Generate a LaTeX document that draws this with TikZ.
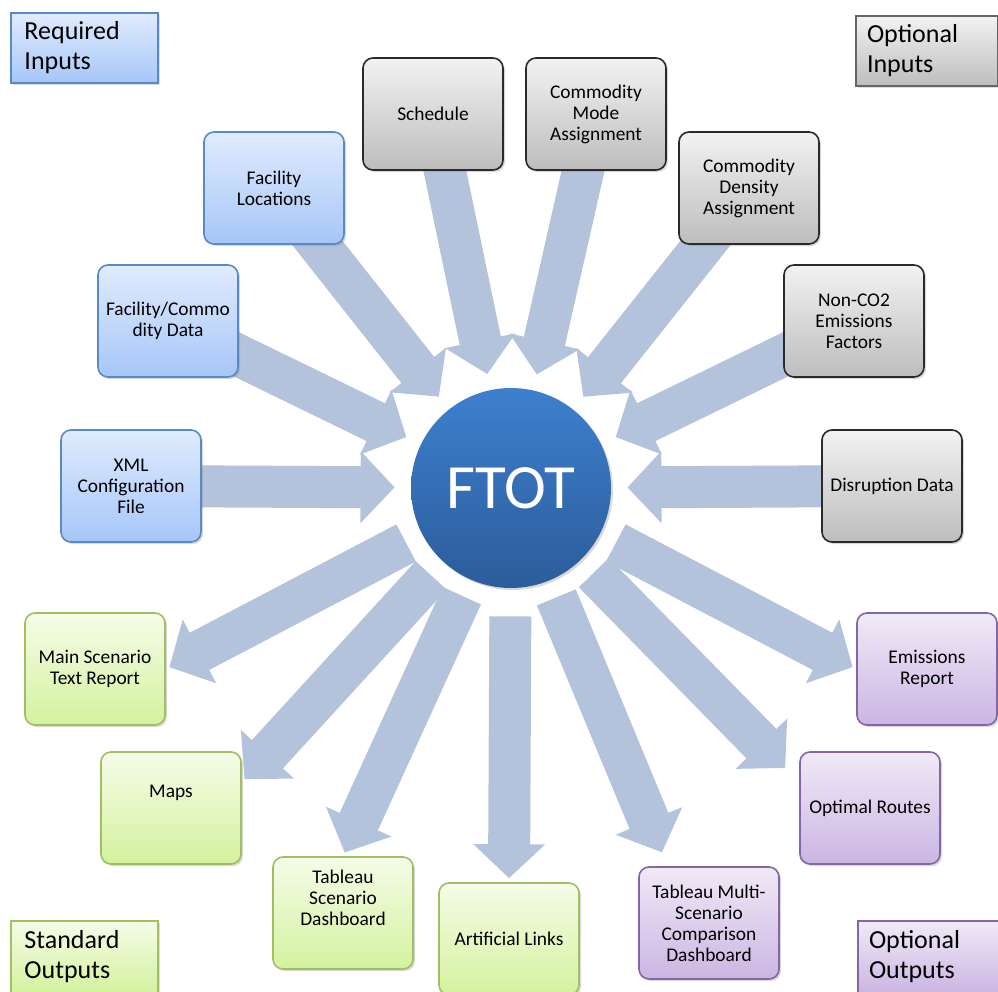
\documentclass[tikz,border=0pt]{standalone}
\usepackage{fontspec}
\setmainfont{Carlito}
\usepackage{xcolor}
\usetikzlibrary{arrows.meta}
\usetikzlibrary{shadows}

\definecolor{flowblue}{HTML}{B3C3DC}
\definecolor{hubtop}{HTML}{3D80CE}
\definecolor{hubbot}{HTML}{2C5C9B}
\definecolor{reqtop}{HTML}{E0EBFD}
\definecolor{reqbot}{HTML}{A6C6F8}
\definecolor{reqedge}{HTML}{5A8AC6}
\definecolor{opttop}{HTML}{F2F2F2}
\definecolor{optbot}{HTML}{BDBDBD}
\definecolor{optedge}{HTML}{2A2A2A}
\definecolor{stdtop}{HTML}{F5FCE8}
\definecolor{stdbot}{HTML}{D4F29E}
\definecolor{stdedge}{HTML}{9FBF62}
\definecolor{outtop}{HTML}{F0EAF7}
\definecolor{outbot}{HTML}{CBB5E2}
\definecolor{outedge}{HTML}{8466A6}

\pgfdeclarelayer{background}
\pgfsetlayers{background,main}

\tikzstyle{card} = [rectangle, rounded corners=5pt, minimum width=70pt,
minimum height=56pt, align=center, line width=0.8pt,
font=\fontsize{9.7}{10.5}\selectfont,
drop shadow={shadow xshift=1pt, shadow yshift=-1pt, opacity=0.3}]
\tikzstyle{reqcard} = [card, draw=reqedge, top color=reqtop, bottom color=reqbot]
\tikzstyle{optcard} = [card, draw=optedge, top color=opttop, bottom color=optbot]
\tikzstyle{stdcard} = [card, draw=stdedge, top color=stdtop, bottom color=stdbot]
\tikzstyle{outcard} = [card, draw=outedge, top color=outtop, bottom color=outbot]
\tikzstyle{legend} = [rectangle, line width=0.7pt, inner xsep=5.5pt,
text width=60pt, minimum height=35pt, align=left,
font=\fontsize{13}{15}\selectfont,
drop shadow={shadow xshift=1pt, shadow yshift=-1pt, opacity=0.25}]
\tikzstyle{hub} = [circle, minimum size=100pt, inner sep=0pt,
top color=hubtop, bottom color=hubbot, text=white,
font=\fontsize{31.5}{32}\selectfont,
drop shadow={shadow xshift=1pt, shadow yshift=-1pt, opacity=0.3}]
\tikzstyle{flow} = [draw=flowblue, line width=21pt,
-{Triangle[length=17pt, width=35pt]}, shorten >=8pt]
\tikzstyle{outflow} = [flow, shorten <=9pt, shorten >=2pt]

\begin{document}
\begin{tikzpicture}[x=0.5pt, y=-0.5pt]
\useasboundingbox (0,0) rectangle (998,992);

\node [hub] (ftot) at (511,488) {FTOT};

% inputs
\node [optcard] (sched) at (433,114) {Schedule};
\node [optcard] (cmode) at (596,114) {Commodity\\Mode\\Assignment};
\node [reqcard] (facloc) at (274,188) {Facility\\Locations};
\node [optcard] (cdens) at (749,188) {Commodity\\Density\\Assignment};
\node [reqcard] (faccom) at (168,321) {Facility/Commo\\dity Data};
\node [optcard] (nonco) at (854,321) {Non-CO2\\Emissions\\Factors};
\node [reqcard] (xml) at (131,486) {XML\\Configuration\\File};
\node [optcard] (disr) at (892,486) {Disruption Data};

% outputs
\node [stdcard] (mainrep) at (95,669) {Main Scenario\\Text Report};
\node [outcard] (emis) at (927,669) {Emissions\\Report};
\node [stdcard, text depth=17pt] (maps) at (171,808) {Maps};
\node [outcard] (optr) at (870,808) {Optimal Routes};
\node [stdcard, text depth=15pt] (tabscen) at (343,913) {Tableau\\Scenario\\Dashboard};
\node [outcard] (tabmulti) at (709,923) {Tableau Multi-\\Scenario\\Comparison\\Dashboard};
\node [stdcard] (artlinks) at (509,939) {Artificial Links};

% legend boxes in the corners
\node [legend, draw=reqedge, top color=reqtop, bottom color=reqbot,
minimum width=73.5pt] (reqin) at (84.5,48) {Required\\Inputs};
\node [legend, draw=black!60, top color=opttop, bottom color=optbot,
minimum width=70pt] (optin) at (927,51) {Optional\\Inputs};
\node [legend, draw=stdedge, top color=stdtop, bottom color=stdbot,
minimum width=73.5pt, minimum height=36pt] (stdout) at (84.5,957) {Standard\\Outputs};
\node [legend, draw=outedge, top color=outtop, bottom color=outbot,
minimum width=68pt, minimum height=36pt] (optout) at (929,957) {Optional\\Outputs};

\begin{pgfonlayer}{background}
\foreach \src in {sched,cmode,facloc,cdens,faccom,nonco,xml,disr}
  \draw [flow] (\src.center) -- (ftot);
\draw [outflow] (ftot) -- (mainrep.east);
\draw [outflow] (ftot) -- (emis.west);
\draw [outflow] (ftot) -- (maps.20);
\draw [outflow, shorten >=10pt] (ftot) -- (optr.160);
\draw [outflow] (ftot) -- (tabscen.north);
\draw [outflow, shorten >=7.5pt] (ftot) -- (tabmulti.126);
\draw [outflow, shorten <=14pt] (ftot) -- (artlinks.north);
\end{pgfonlayer}
\end{tikzpicture}
\end{document}
